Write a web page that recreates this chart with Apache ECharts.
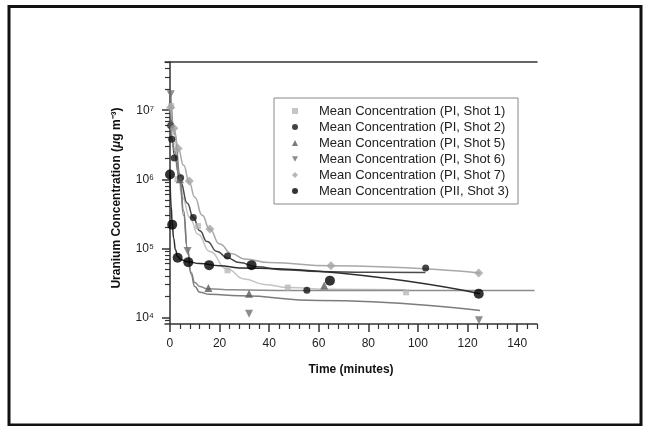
<!DOCTYPE html>
<html>
<head>
<meta charset="utf-8">
<script src="https://cdn.jsdelivr.net/npm/echarts@6/dist/echarts.min.js"></script>
<style>
  html, body { margin: 0; padding: 0; background: #fff; }
  #chart { width: 645px; height: 426px; }
</style>
</head>
<body>
<div id="chart"></div>
<script>
// measured points: [time (min), concentration (ug m-3)]
const shot1 = [[0.5, 1.15e7], [3, 1.0e6], [11.3, 2.1e5], [23.2, 4.8e4], [47.5, 2.7e4], [95.2, 2.3e4]];
const shot2 = [[0.3, 6.0e6], [0.7, 3.8e6], [1.7, 2.04e6], [4.3, 1.05e6], [9.4, 2.8e5], [23.2, 7.7e4], [55.2, 2.46e4], [103.1, 5.2e4]];
const shot5 = [[0.5, 6.5e6], [4, 1.0e6], [15.5, 2.66e4], [31.9, 2.2e4], [62.2, 2.9e4]];
const shot6 = [[0.3, 1.7e7], [7.1, 9.1e4], [31.9, 1.13e4], [124.6, 9.1e3]];
const shot7 = [[0.3, 1.1e7], [1.6, 5.5e6], [3.3, 2.8e6], [7.8, 9.4e5], [16.1, 1.9e5], [64.9, 5.6e4], [124.5, 4.4e4]];
const pii3 = [[0, 1.17e6], [0.9, 2.2e5], [3.1, 7.3e4], [7.4, 6.3e4], [15.8, 5.7e4], [32.9, 5.7e4], [64.5, 3.4e4], [124.5, 2.2e4]];

// fitted curves
const shot1Fit = [[0.5, 1.2e7], [1.5, 4.5e6], [3, 1.3e6], [5, 5.5e5], [8, 2.8e5], [11.3, 1.6e5], [16, 9e4], [23, 5e4], [30, 3.6e4], [38, 3e4], [48, 2.7e4], [65, 2.55e4], [95, 2.5e4]];
const shot2Fit = [[0.3, 6e6], [1, 3.5e6], [1.7, 2.3e6], [4.3, 9e5], [7, 4.5e5], [9.4, 2.8e5], [12, 1.8e5], [15, 1.25e5], [19, 9e4], [23, 7.3e4], [28, 6.2e4], [35, 5.4e4], [45, 4.9e4], [60, 4.6e4], [80, 4.5e4], [103, 4.45e4]];
const shot5Fit = [[0.3, 7e6], [2, 2.5e6], [4, 9e5], [5.5, 3e5], [7, 1e5], [8.5, 4.5e4], [10, 3.2e4], [12, 2.8e4], [15, 2.6e4], [25, 2.5e4], [50, 2.45e4], [100, 2.45e4], [147, 2.45e4]];
const shot6Fit = [[0.3, 1.7e7], [2, 4.5e6], [4, 1.2e6], [5.5, 3.5e5], [7, 1e5], [8.5, 4.2e4], [10, 2.8e4], [12, 2.3e4], [16, 2.15e4], [28, 2.05e4], [60, 1.75e4], [125, 1.26e4]];
const shot7Fit = [[0.3, 1.1e7], [1.6, 5.5e6], [3.3, 2.8e6], [5.5, 1.6e6], [7.8, 9e5], [10, 5.5e5], [13, 3e5], [16, 1.9e5], [20, 1.15e5], [25, 8.3e4], [30, 7e4], [40, 6.2e4], [65, 5.6e4], [125, 4.4e4]];
const pii3Fit = [[0, 1.2e6], [0.5, 4e5], [0.9, 2.3e5], [1.5, 1.4e5], [2.2, 9.5e4], [3.1, 7.6e4], [4.5, 6.8e4], [7, 6.4e4], [12, 6e4], [20, 5.6e4], [28, 5.2e4], [125, 2.2e4]];

const names = [
  'Mean Concentration (PI, Shot 1)',
  'Mean Concentration (PI, Shot 2)',
  'Mean Concentration (PI, Shot 5)',
  'Mean Concentration (PI, Shot 6)',
  'Mean Concentration (PI, Shot 7)',
  'Mean Concentration (PII, Shot 3)'
];

const xTicks = [0, 20, 40, 60, 80, 100, 120, 140];
const yTicks = [1e4, 1e5, 1e6, 1e7];
const supers = { 4: '\u2074', 5: '\u2075', 6: '\u2076', 7: '\u2077' };

// minor ticks: every 4 min on x, 2..9 per decade on y
const xMinor = [];
for (let t = 4; t <= 148; t += 4) if (t % 20 !== 0) xMinor.push(t);
const yMinor = [9e3];
for (let d = 1e4; d <= 1e7; d *= 10)
  for (let k = 2; k <= 9; k++) if (k * d <= 5e7) yMinor.push(k * d);

const font = 'Liberation Sans, Arial, sans-serif';
const axisColor = '#333';
const downTriangle = 'path://M0,0 L10,0 L5,9 Z';

function dots(name, data, symbol, size, color) {
  return {
    name: name, type: 'scatter', data: data, symbol: symbol, symbolSize: size,
    itemStyle: { color: color }, z: 5, clip: false
  };
}
function fit(data, color) {
  return {
    type: 'line', data: data, showSymbol: false, smooth: true, smoothMonotone: 'x',
    lineStyle: { color: color, width: 1.5 }, z: 3, silent: true
  };
}

const chart = echarts.init(document.getElementById('chart'));
chart.setOption({
  animation: false,
  textStyle: { fontFamily: font },
  graphic: [{
    type: 'rect', shape: { x: 9, y: 6.5, width: 632, height: 418.5 },
    style: { fill: 'none', stroke: '#111', lineWidth: 3 }
  }],
  grid: { left: 165, right: 108, top: 62, bottom: 102 },
  legend: {
    data: names, orient: 'vertical', left: 274, top: 98,
    padding: [5, 9, 5, 18], itemWidth: 6, itemHeight: 6, itemGap: 0,
    borderColor: '#888', borderWidth: 1, selectedMode: false,
    textStyle: { fontSize: 13, color: '#222', lineHeight: 16, padding: [0, 0, 0, 16] }
  },
  xAxis: [{
    type: 'value', min: -2, max: 148, position: 'bottom',
    axisLine: { lineStyle: { color: axisColor, width: 1.5 } },
    axisTick: { customValues: xTicks, length: 8, lineStyle: { color: axisColor, width: 1.5 } },
    axisLabel: { customValues: xTicks, margin: 14, fontSize: 12, color: '#222' },
    splitLine: { show: false },
    name: 'Time (minutes)', nameLocation: 'middle', nameGap: 40,
    nameTextStyle: { fontWeight: 'bold', fontSize: 12, color: '#111' }
  }, {
    type: 'value', min: -2, max: 148, position: 'bottom',
    axisLine: { show: false },
    axisTick: { customValues: xMinor, length: 5, lineStyle: { color: axisColor, width: 1.2 } },
    axisLabel: { show: false }, splitLine: { show: false }
  }, {
    type: 'value', min: -2, max: 148, position: 'top',
    axisLine: { lineStyle: { color: axisColor, width: 1.5 } },
    axisTick: { show: false }, axisLabel: { show: false }, splitLine: { show: false }
  }],
  yAxis: [{
    type: 'log', logBase: 10, min: 8000, max: 5e7, position: 'left',
    axisLine: { show: true, lineStyle: { color: axisColor, width: 1.5 } },
    axisTick: { customValues: yTicks, length: 8, lineStyle: { color: axisColor, width: 1.5 } },
    axisLabel: {
      customValues: yTicks, margin: 11, fontSize: 12, color: '#222',
      formatter: v => '10' + supers[Math.round(Math.log10(v))]
    },
    splitLine: { show: false },
    name: 'Uranium Concentration ({i|\u03bc}g m\u207b\u00b3)', nameLocation: 'middle', nameGap: 42,
    nameTextStyle: {
      fontWeight: 'bold', fontSize: 12, color: '#111', padding: [0, 10, 0, 0],
      rich: { i: { fontStyle: 'italic', fontWeight: 'bold', fontSize: 12, color: '#111' } }
    }
  }, {
    type: 'log', logBase: 10, min: 8000, max: 5e7, position: 'left',
    axisLine: { show: false },
    axisTick: { customValues: yMinor, length: 5, lineStyle: { color: axisColor, width: 1.2 } },
    axisLabel: { show: false }, splitLine: { show: false }
  }],
  series: [
    fit(shot1Fit, '#c4c4c4'),
    fit(shot2Fit, '#4a4a4a'),
    fit(shot5Fit, '#8c8c8c'),
    fit(shot6Fit, '#7c7c7c'),
    fit(shot7Fit, '#a8a8a8'),
    fit(pii3Fit, '#2e2e2e'),
    dots(names[0], shot1, 'rect', 6, '#b8b8b8'),
    dots(names[1], shot2, 'circle', 7, '#151515'),
    dots(names[2], shot5, 'triangle', 8, '#5a5a5a'),
    dots(names[3], shot6, downTriangle, 8, '#707070'),
    dots(names[4], shot7, 'diamond', 9, '#a4a4a4'),
    dots(names[5], pii3, 'circle', 10, '#000')
  ]
});
</script>
</body>
</html>
